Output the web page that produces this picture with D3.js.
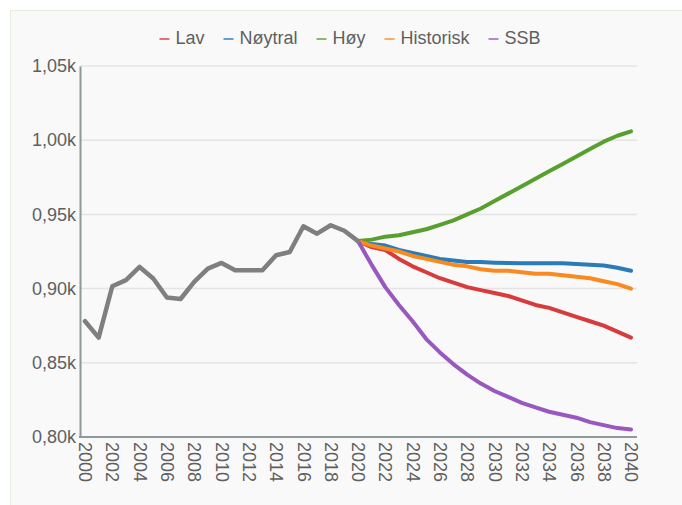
<!DOCTYPE html>
<html>
<head>
<meta charset="utf-8">
<script src="https://cdn.jsdelivr.net/npm/d3@7.9.0/dist/d3.min.js"></script>
<style>
  body { margin: 0; background: #fff; font-family: "Liberation Sans", Arial, sans-serif; }
  svg { display: block; }
</style>
</head>
<body>
<svg id="chart" width="682" height="505"></svg>
<script>
// historical values 2000-2020
const histYears = d3.range(2000, 2021);
const historic = [0.878, 0.867, 0.9016, 0.9057, 0.9146, 0.9068, 0.894, 0.893, 0.9045, 0.9135,
  0.9173, 0.9124, 0.9124, 0.9124, 0.9225, 0.9247, 0.942, 0.937, 0.9427, 0.939, 0.932];

// scenarios 2020-2040
const projYears = d3.range(2020, 2041);
const lav = [0.932, 0.928, 0.926, 0.920, 0.915, 0.911, 0.907, 0.904, 0.901, 0.899, 0.897,
  0.895, 0.892, 0.889, 0.887, 0.884, 0.881, 0.878, 0.875, 0.871, 0.867];
const noytral = [0.932, 0.930, 0.929, 0.926, 0.924, 0.922, 0.920, 0.919, 0.918, 0.918, 0.9175,
  0.9172, 0.917, 0.917, 0.917, 0.917, 0.9165, 0.916, 0.9155, 0.914, 0.912];
const hoy = [0.932, 0.933, 0.935, 0.936, 0.938, 0.940, 0.943, 0.946, 0.950, 0.954, 0.959,
  0.964, 0.969, 0.974, 0.979, 0.984, 0.989, 0.994, 0.999, 1.003, 1.006];
const historisk = [0.932, 0.929, 0.927, 0.925, 0.922, 0.920, 0.918, 0.916, 0.915, 0.913, 0.912,
  0.912, 0.911, 0.910, 0.910, 0.909, 0.908, 0.907, 0.905, 0.903, 0.900];
const ssb = [0.932, 0.916, 0.901, 0.889, 0.878, 0.866, 0.857, 0.849, 0.842, 0.836, 0.831,
  0.827, 0.823, 0.820, 0.817, 0.815, 0.813, 0.810, 0.808, 0.806, 0.805];

const seriesNames = ["Lav", "Nøytral", "Høy", "Historisk", "SSB"];
const seriesColors = ["#d83b3b", "#2b7bb9", "#58a02e", "#f98a1f", "#9957c0"];
const seriesValues = [lav, noytral, hoy, historisk, ssb];
const yTicks = [0.80, 0.85, 0.90, 0.95, 1.00, 1.05];
const xTicks = d3.range(2000, 2041, 2);

const svg = d3.select("#chart");
const font = "Liberation Sans, Arial, sans-serif";
const textColor = "#5f5f5f";

// panel background
svg.append("rect")
  .attr("x", 10.5).attr("y", 10.5)
  .attr("width", 690).attr("height", 520)
  .attr("fill", "#f9f9f9")
  .attr("stroke", "#e3eedd");

const x = d3.scaleLinear().domain([2000, 2040]).range([85, 631]);
const y = d3.scaleLinear().domain([0.80, 1.05]).range([437, 66]);

// grid
svg.append("g")
  .selectAll("line")
  .data(yTicks.slice(1))
  .join("line")
  .attr("x1", 80).attr("x2", 637)
  .attr("y1", d => y(d)).attr("y2", d => y(d))
  .attr("stroke", "#e4e4e4")
  .attr("stroke-width", 1.5);

// y axis
const yAxis = svg.append("g")
  .attr("transform", "translate(80,0)")
  .call(d3.axisLeft(y).tickValues(yTicks).tickSize(0).tickPadding(4)
    .tickFormat(d => d3.format(".2f")(d).replace(".", ",") + "k"));
yAxis.select(".domain").attr("stroke", "#8e9a9a").attr("stroke-width", 2);
yAxis.selectAll("text")
  .attr("font-size", 18).attr("fill", textColor)
  .attr("font-family", font);

// x axis
const xAxis = svg.append("g")
  .attr("transform", "translate(0,437)")
  .call(d3.axisBottom(x).tickValues(xTicks).tickSize(0).tickFormat(d3.format("d")));
xAxis.select(".domain").attr("d", "M79,0H637").attr("stroke", "#8e9a9a").attr("stroke-width", 2);
xAxis.selectAll("text")
  .attr("font-size", 18).attr("fill", textColor)
  .attr("font-family", font)
  .attr("text-anchor", "start")
  .attr("dy", "0.35em")
  .attr("transform", "translate(0,5) rotate(90)")
  .attr("x", 0).attr("y", 0);

const line = d3.line()
  .x(d => x(d[0]))
  .y(d => y(d[1]));

// scenario lines
seriesValues.forEach((vals, i) => {
  svg.append("path")
    .datum(projYears.map((yr, j) => [yr, vals[j]]))
    .attr("d", line)
    .attr("fill", "none")
    .attr("stroke", seriesColors[i])
    .attr("stroke-width", 4)
    .attr("stroke-linejoin", "round")
    .attr("stroke-linecap", "round");
});

// historical line
svg.append("path")
  .datum(histYears.map((yr, j) => [yr, historic[j]]))
  .attr("d", line)
  .attr("fill", "none")
  .attr("stroke", "#7f7f7f")
  .attr("stroke-width", 4.5)
  .attr("stroke-linejoin", "round")
  .attr("stroke-linecap", "round");

// legend
const legend = svg.append("g").attr("transform", "translate(0,38)");
const items = [];
seriesNames.forEach((name, i) => {
  const g = legend.append("g");
  g.append("line")
    .attr("x1", 0).attr("x2", 10).attr("y1", 1).attr("y2", 1)
    .attr("stroke", seriesColors[i]).attr("stroke-opacity", 0.7).attr("stroke-width", 2);
  const t = g.append("text")
    .attr("x", 16).attr("dy", "0.35em")
    .attr("font-size", 18).attr("fill", textColor)
    .attr("font-family", font)
    .text(name);
  items.push({ g, w: 16 + t.node().getComputedTextLength() });
});
const gap = 19;
const total = d3.sum(items, d => d.w) + gap * (items.length - 1);
let lx = 350 - total / 2;
items.forEach(it => {
  it.g.attr("transform", `translate(${lx},0)`);
  lx += it.w + gap;
});
</script>
</body>
</html>
